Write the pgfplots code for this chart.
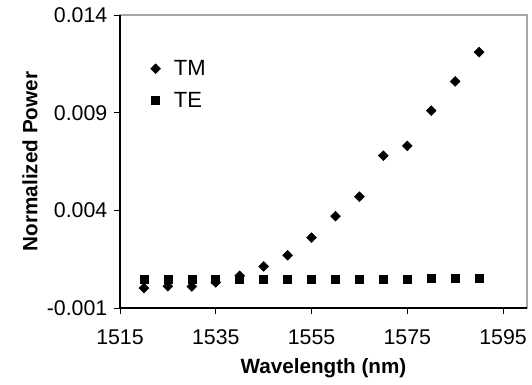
\documentclass[border=0pt]{standalone}
\usepackage{pgfplots}
\pgfplotsset{compat=1.18}
\usepackage{fontspec}
\setmainfont{Liberation Sans}
\begin{document}
\begin{tikzpicture}
\begin{axis}[
  width=305.25pt, height=219.75pt, scale only axis,
  xmin=1515, xmax=1600, ymin=-0.001, ymax=0.014,
  xtick={1515,1535,1555,1575,1595},
  xticklabels={1515,1535,1555,1575,1595},
  ytick={-0.001,0.004,0.009,0.014},
  yticklabels={-0.001,0.004,0.009,0.014},
  scaled y ticks=false,
  /pgf/number format/assume math mode=true,
  tick pos=left, tick align=outside,
  major tick length=4.5pt,
  tick style={black, line width=0.6pt},
  axis line style={gray!70, line width=0.8pt},
  xticklabel style={font=\fontsize{16}{18}\selectfont, yshift=-8pt},
  yticklabel style={font=\fontsize{16}{18}\selectfont, xshift=-1.5pt},
  xlabel={\bfseries Wavelength (nm)},
  ylabel={\bfseries Normalized Power},
  xlabel style={font=\fontsize{15.5}{18}\selectfont, yshift=-4pt},
  ylabel style={font=\fontsize{15.5}{18}\selectfont, yshift=0pt},
  legend style={at={(rel axis cs:0.065,0.865)}, anchor=north west, draw=none, fill=none,
    font=\fontsize{16.5}{20}\selectfont, row sep=7pt, cells={anchor=west}},
  legend cell align=left,
  clip=false,
]
\coordinate (sw) at (rel axis cs:0,0);
\coordinate (nw) at (rel axis cs:0,1);
\coordinate (se) at (rel axis cs:1,0);
\addplot[only marks, mark=square*, mark size=2.6pt, mark options={rotate=45, fill=black}] coordinates {
(1520,0.00002) (1525,0.00011) (1530,0.0001) (1535,0.00031) (1540,0.00065)
(1545,0.00113) (1550,0.0017) (1555,0.0026) (1560,0.0037) (1565,0.0047)
(1570,0.0068) (1575,0.0073) (1580,0.0091) (1585,0.0106) (1590,0.0121)};
\addlegendentry{\hspace{8pt}TM}
\addplot[only marks, mark=square*, mark size=3pt, mark options={fill=black}] coordinates {
(1520,0.00045) (1525,0.00045) (1530,0.00045) (1535,0.00045) (1540,0.00045)
(1545,0.00045) (1550,0.00045) (1555,0.00045) (1560,0.00045) (1565,0.00045)
(1570,0.00045) (1575,0.00045) (1580,0.00052) (1585,0.00052) (1590,0.00052)};
\addlegendentry{\hspace{8pt}TE}
\end{axis}
\draw[black, line width=0.8pt] (nw) -- (sw) -- (se);
\path (sw) ++(-90pt,-57.75pt) rectangle ++(399pt,288.75pt);
\end{tikzpicture}
\end{document}
